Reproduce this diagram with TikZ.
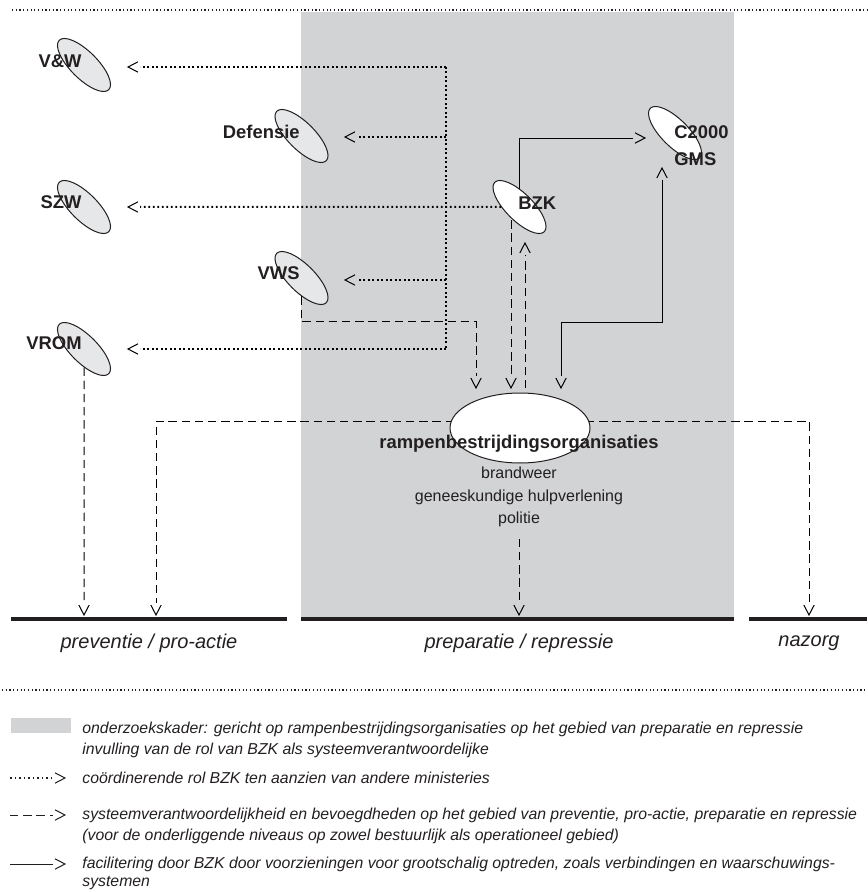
\documentclass[tikz,border=0pt]{standalone}
\usepackage{fontspec}
\setmainfont{Liberation Sans}
\usetikzlibrary{shapes.geometric,backgrounds}

\definecolor{kader}{HTML}{D1D3D4}
\definecolor{ovaal}{HTML}{E6E7E8}
\definecolor{inkt}{HTML}{231F20}

% open chevron, set off from the end of the line
\pgfdeclarearrow{
  name = chev,
  setup code = {
    \pgfarrowssettipend{0pt}
    \pgfarrowssetlineend{-6pt}
    \pgfarrowssetbackend{-5pt}
    \pgfarrowssetvisualbackend{-5pt}
    \pgfarrowsupperhullpoint{-5pt}{2.6pt}
    \pgfarrowsupperhullpoint{0pt}{0pt}
  },
  drawing code = {
    \pgfsetdash{}{0pt}
    \pgfsetlinewidth{0.5pt}
    \pgfpathmoveto{\pgfpoint{-5pt}{2.6pt}}
    \pgfpathlineto{\pgfpointorigin}
    \pgfpathlineto{\pgfpoint{-5pt}{-2.6pt}}
    \pgfusepathqstroke
  }
}

\begin{document}
\begin{tikzpicture}
[x=0.5pt, y=-0.5pt, inkt,
  ministerie/.style={ellipse, draw=inkt, line width=0.5pt, fill=ovaal, inner sep=0pt,
    minimum width=35pt, minimum height=13.5pt, rotate=-45},
  systeem/.style={ministerie, fill=white},
  ramp/.style={ellipse, draw=inkt, line width=0.5pt, fill=white, minimum width=70pt, minimum height=35pt},
  naam/.style={font=\bfseries\fontsize{9.2}{10}\selectfont, inner sep=0pt},
  dienst/.style={font=\fontsize{8}{9}\selectfont, inner sep=3pt},
  fase/.style={font=\itshape\fontsize{10}{11}\selectfont},
  uitleg/.style={font=\itshape\fontsize{7.9}{9}\selectfont, anchor=west, inner sep=0pt},
  coord/.style={line width=1pt, dash pattern=on 0.9pt off 1.35pt},
  resp/.style={line width=0.5pt, dash pattern=on 4.2pt off 2.4pt},
  fac/.style={line width=0.45pt},
  stip/.style={line width=0.7pt, dash pattern=on 0.6pt off 1.25pt},
  basis/.style={line width=2pt}]
  \useasboundingbox (0,0) rectangle (867,892);

  % ministeries
  \node[ministerie] (vw) at (84,65) {};
  \node[ministerie] (def) at (301.5,136) {};
  \node[ministerie] (szw) at (84,207) {};
  \node[ministerie] (vws) at (301.5,278) {};
  \node[ministerie] (vrom) at (84,349) {};
  \node[systeem] (bzk) at (519.5,207) {};
  \node[systeem] (c2000) at (675,133) {};
  \node[naam, anchor=east] (vwnaam) at (82,61) {V\&W};
  \node[naam, anchor=east] (defnaam) at (300,132) {Defensie};
  \node[naam, anchor=east] (szwnaam) at (82,202) {SZW};
  \node[naam, anchor=east] (vwsnaam) at (300,273) {VWS};
  \node[naam, anchor=east] (vromnaam) at (82,343) {VROM};
  \node[naam, anchor=west] (bzknaam) at (518,203) {BZK};
  \node[naam, anchor=west] (c2000naam) at (674,132) {C2000};
  \node[naam, anchor=west] (gmsnaam) at (674,159) {GMS};

  % rampenbestrijdingsorganisaties
  \node[ramp] (ramp) at (520,428) {};
  \node[naam] (rampnaam) at (519,444) {rampenbestrijdingsorganisaties};
  \node[dienst] (brandweer) at (519,473) {brandweer};
  \node[dienst] (genees) at (519,497) {geneeskundige hulpverlening};
  \node[dienst] (politie) at (519,519) {politie};

  \node[fase] (prev) at (149,643) {preventie / pro-actie};
  \node[fase] (prep) at (519,643) {preparatie / repressie};
  \node[fase] (nazorg) at (809,643) {nazorg};

  \coordinate (htop) at (446,67);
  \coordinate (hbot) at (446,349);
  \coordinate (vwpijl) at (128,67);
  \coordinate (defpijl) at (345,137);
  \coordinate (szwpijl) at (128,207);
  \coordinate (vwspijl) at (345,280);
  \coordinate (vrompijl) at (128,349);
  \coordinate (vwsknik) at (476,322);
  \coordinate (in1) at (476,388);
  \coordinate (in2) at (511,388);
  \coordinate (in3) at (561,388);
  \coordinate (bzkin) at (525,243);
  \coordinate (c2in) at (645,138);
  \coordinate (c2uit) at (662,168);
  \coordinate (zij) at (0,421);
  \coordinate (prevpijl1) at (84,615);
  \coordinate (prevpijl2) at (156,615);
  \coordinate (preppijl) at (519,615);
  \coordinate (nazorgpijl) at (809,615);

  \begin{pgfonlayer}{background}
    \fill[kader] (301,12) rectangle (734,618);

    \draw[coord] (htop) -- (hbot);
    \draw[coord,-{chev}] (htop) -- (vwpijl);
    \draw[coord,-{chev}] (htop |- defpijl) -- (defpijl);
    \draw[coord,-{chev}] (bzk) -- (szwpijl);
    \draw[coord,-{chev}] (htop |- vwspijl) -- (vwspijl);
    \draw[coord,-{chev}] (hbot) -- (vrompijl);

    \draw[resp,-{chev}] (vws) |- (vwsknik) -- (in1);
    \draw[resp,-{chev}] (in2 |- bzk) -- (in2);
    \draw[resp,-{chev}] (bzkin |- ramp) -- (bzkin);
    \draw[resp,-{chev}] (ramp |- zij) -| (prevpijl2);
    \draw[resp,-{chev}] (ramp |- zij) -| (nazorgpijl);
    \draw[resp,-{chev}] (vrom) -- (prevpijl1);
    \draw[resp,-{chev},shorten <=3pt] (politie) -- (preppijl);

    \draw[fac,-{chev}] (bzk) |- (c2in);
    \draw[fac,{chev}-{chev}] (c2uit) |- (in3 |- vwsknik) -- (in3);
  \end{pgfonlayer}

  \draw[basis] (11,619) -- (287,619);
  \draw[basis] (301,619) -- (734,619);
  \draw[basis] (749,619) -- (867,619);
  \draw[stip] (12,10) -- (867,10);
  \draw[stip] (2,690) -- (867,690);

  % legenda
  \fill[kader] (11,718) rectangle (71,733);
  \coordinate (ls1) at (10,778);
  \coordinate (le1) at (65,778);
  \coordinate (ls2) at (10,815);
  \coordinate (le2) at (65,815);
  \coordinate (ls3) at (10,864);
  \coordinate (le3) at (65,864);
  \draw[coord,line width=0.7pt,-{chev}] (ls1) -- (le1);
  \draw[resp,-{chev}] (ls2) -- (le2);
  \draw[fac,-{chev}] (ls3) -- (le3);
  \node[uitleg] (u1) at (82,729) {onderzoekskader: gericht op rampenbestrijdingsorganisaties op het gebied van preparatie en repressie};
  \node[uitleg] (u2) at (82,750) {invulling van de rol van BZK als systeemverantwoordelijke};
  \node[uitleg] (u3) at (82,778) {coördinerende rol BZK ten aanzien van andere ministeries};
  \node[uitleg] (u4) at (82,815) {systeemverantwoordelijkheid en bevoegdheden op het gebied van preventie, pro-actie, preparatie en repressie};
  \node[uitleg] (u5) at (82,836) {(voor de onderliggende niveaus op zowel bestuurlijk als operationeel gebied)};
  \node[uitleg] (u6) at (82,864) {facilitering door BZK door voorzieningen voor grootschalig optreden, zoals verbindingen en waarschuwings-};
  \node[uitleg] (u7) at (82,883) {systemen};
\end{tikzpicture}
\end{document}
